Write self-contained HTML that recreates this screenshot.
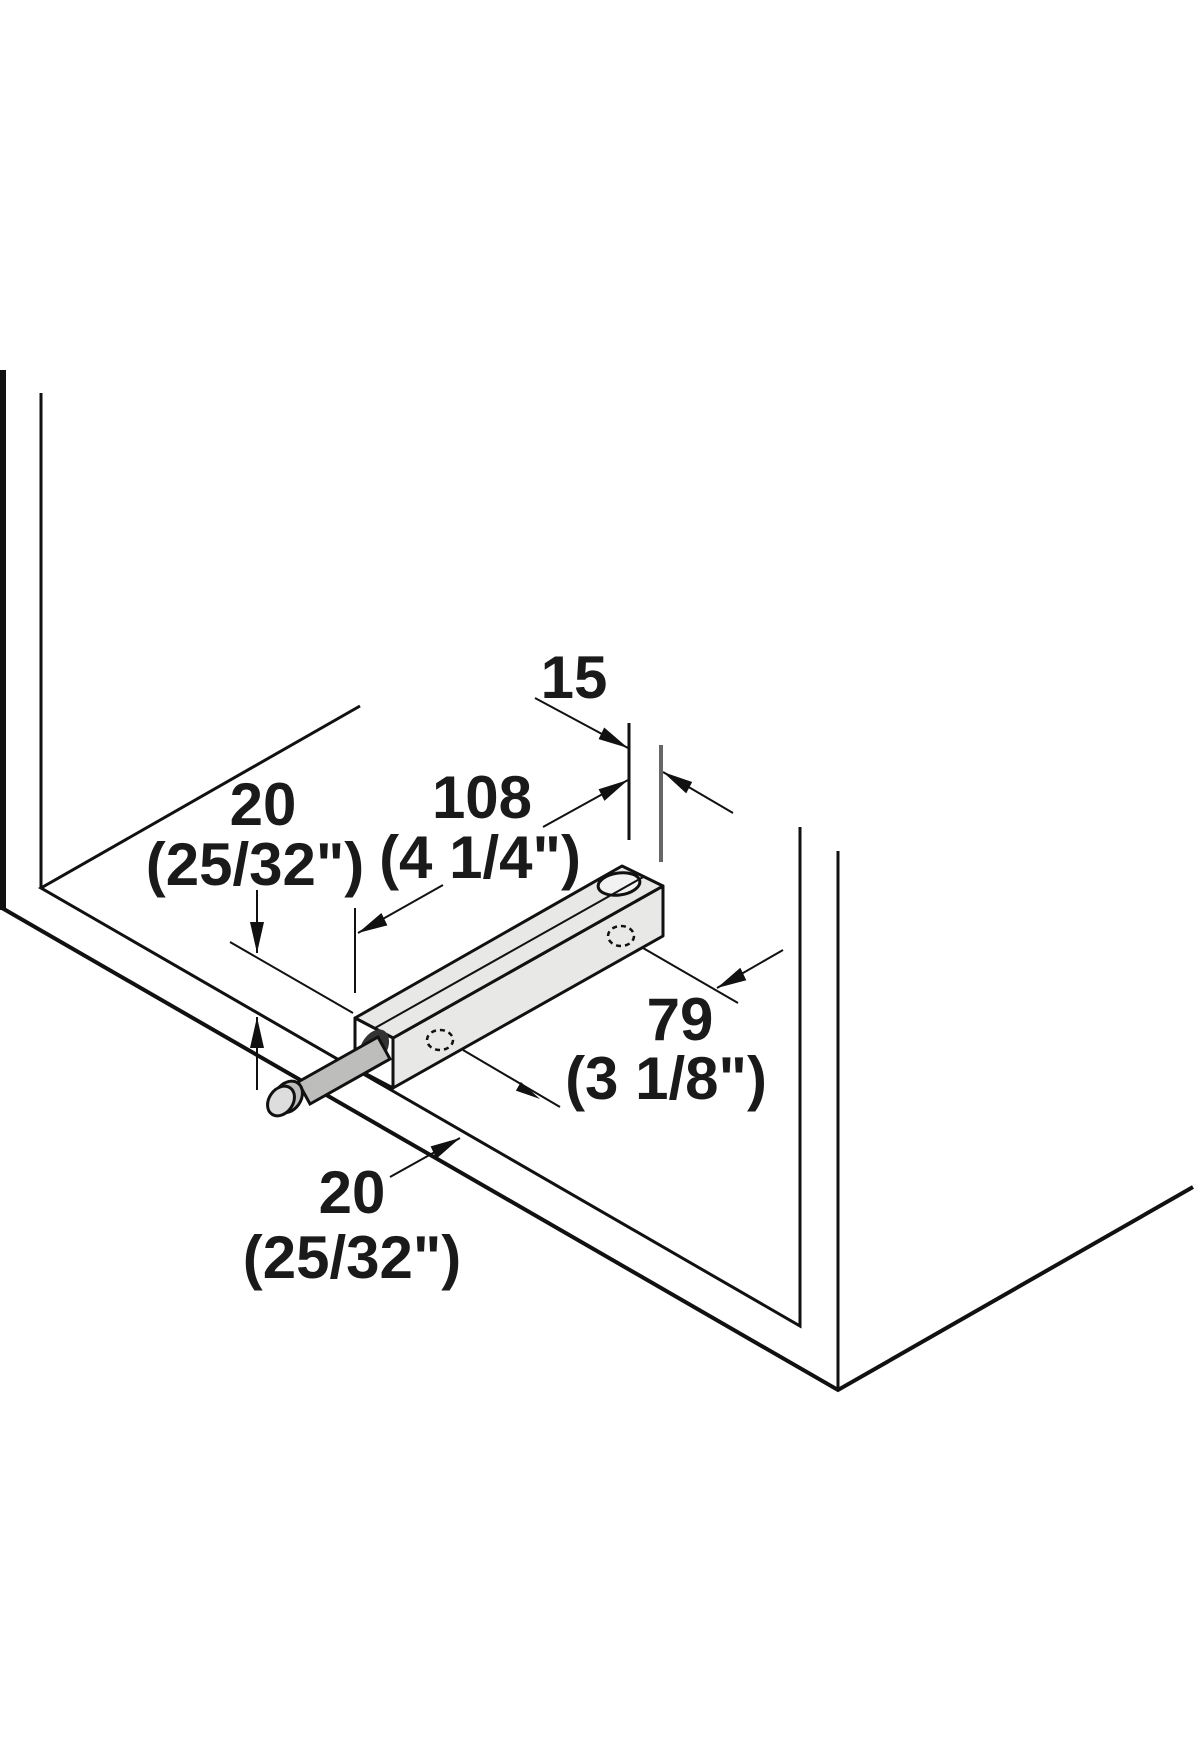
<!DOCTYPE html>
<html><head><meta charset="utf-8"><style>html,body{margin:0;padding:0;background:#fff}svg{display:block}</style></head>
<body>
<svg width="1200" height="1760" viewBox="0 0 1200 1760" xmlns="http://www.w3.org/2000/svg">
<g stroke="#111" fill="none" stroke-linecap="butt">
  <line x1="3" y1="370" x2="3" y2="910" stroke-width="6"/>
  <line x1="41" y1="393" x2="41" y2="888" stroke-width="3"/>
  <polyline points="2,908 838,1390 1193,1187" stroke-width="4"/>
  <line x1="838" y1="851" x2="838" y2="1390" stroke-width="3"/>
  <polyline points="800,827 800,1326 41,888 360,706" stroke-width="3"/>
  <line x1="535" y1="698" x2="628" y2="748" stroke-width="2"/>
  <line x1="733" y1="813" x2="663" y2="772" stroke-width="2"/>
  <line x1="543" y1="827" x2="628" y2="780" stroke-width="2"/>
  <line x1="629" y1="723" x2="629" y2="840" stroke-width="3"/>
  <line x1="661" y1="745" x2="661" y2="862" stroke-width="4" stroke="#666"/>
  <line x1="443" y1="885" x2="358" y2="933" stroke-width="2"/>
  <line x1="355" y1="908" x2="355" y2="993" stroke-width="2"/>
  <line x1="230" y1="942" x2="353" y2="1013" stroke-width="2"/>
  <line x1="257" y1="890" x2="257" y2="953" stroke-width="2"/>
  <line x1="257" y1="1017" x2="257" y2="1090" stroke-width="2"/>
  <line x1="643" y1="948" x2="738" y2="1003" stroke-width="2"/>
  <line x1="783" y1="950" x2="717" y2="988" stroke-width="2"/>
  <line x1="463" y1="1050" x2="560" y2="1107" stroke-width="2"/>
  <line x1="390" y1="1177" x2="460" y2="1138" stroke-width="2"/>
</g>
<g fill="#111">
  <polygon points="628,748 598.6,739.1 604.2,727.5"/>
  <polygon points="663,772 692.2,782 686.2,793.4"/>
  <polygon points="628,780 604.4,800.9 598.6,789.3"/>
  <polygon points="358,933 387.4,925.4 381.4,913"/>
  <polygon points="717,988 746.3,980.2 740.3,967.8"/>
  <polygon points="540,1099 515.9,1090.6 520.9,1082"/>
  <polygon points="460,1138 436.4,1158.8 430.6,1146.4"/>
  <polygon points="257,953 250,922 264,922"/>
  <polygon points="257,1017 250,1048 264,1048"/>
</g>
<g stroke="#111" stroke-width="3" stroke-linejoin="round" fill="#e8e8e6">
  <polygon points="393,1038 663,886 663,936 393,1088"/>
  <polygon points="355,1018 622,866 663,886 393,1038"/>
  <polygon points="355,1018 393,1038 393,1088 355,1068" fill="#fff"/>
  <ellipse cx="619" cy="884" rx="21" ry="11" fill="#f2f2f2" transform="rotate(-8 619 884)"/>
</g>
<line x1="375" y1="1028" x2="645" y2="876" stroke="#111" stroke-width="2"/>
<g stroke="#111" stroke-width="2.5" stroke-dasharray="5,4" fill="none">
  <ellipse cx="440" cy="1040" rx="13" ry="10"/>
  <ellipse cx="621" cy="936" rx="13" ry="10"/>
</g>
<ellipse cx="374" cy="1048" rx="13" ry="20" fill="#333" transform="rotate(30 374 1048)"/>
<polygon points="298,1082 378,1037 390,1059 310,1104" fill="#bdbdbb" stroke="#111" stroke-width="3"/>
<ellipse cx="288" cy="1097" rx="13" ry="17" transform="rotate(35 288 1097)" fill="#bdbdbb" stroke="#111" stroke-width="3"/>
<ellipse cx="281" cy="1101" rx="12" ry="16" transform="rotate(35 281 1101)" fill="#ddd" stroke="#111" stroke-width="3"/>
<g font-family="Liberation Sans, Arial, sans-serif" font-weight="bold" font-size="60" fill="#1a1a1a" text-anchor="middle">
  <text x="574" y="698">15</text>
  <text x="482" y="818">108</text>
  <text x="480" y="878">(4 1/4")</text>
  <text x="263" y="825">20</text>
  <text x="255" y="885">(25/32")</text>
  <text x="680" y="1040">79</text>
  <text x="666" y="1099">(3 1/8")</text>
  <text x="352" y="1213">20</text>
  <text x="352" y="1278">(25/32")</text>
</g>
</svg>
</body></html>
